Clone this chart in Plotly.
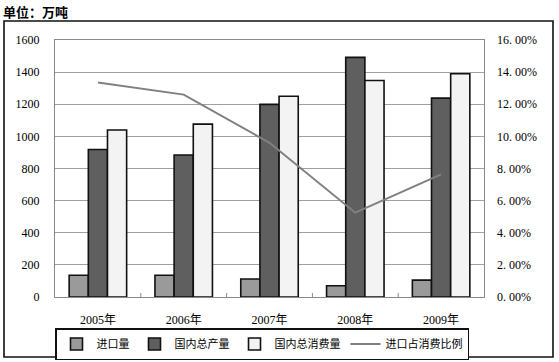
import plotly.graph_objects as go

years = ["2005年", "2006年", "2007年", "2008年", "2009年"]
imports = [135, 135, 112, 70, 105]
production = [918, 884, 1199, 1492, 1238]
consumption = [1040, 1076, 1250, 1348, 1390]
import_ratio = [0.1335, 0.126, 0.096, 0.0525, 0.0763]

left_ticks = [0, 200, 400, 600, 800, 1000, 1200, 1400, 1600]
right_tickvals = [0, 0.02, 0.04, 0.06, 0.08, 0.10, 0.12, 0.14, 0.16]
right_ticktext = ["0. 00%", "2. 00%", "4. 00%", "6. 00%", "8. 00%",
                  "10. 00%", "12. 00%", "14. 00%", "16. 00%"]

serif = "Liberation Serif, Noto Sans CJK SC, serif"
cjk = "Noto Sans CJK SC, sans-serif"

fig = go.Figure()
outline = dict(color="#111111", width=1.6)
fig.add_trace(go.Bar(name="进口量", x=years, y=imports,
                     marker=dict(color="#9a9a9a", line=outline)))
fig.add_trace(go.Bar(name="国内总产量", x=years, y=production,
                     marker=dict(color="#5f5f5f", line=outline)))
fig.add_trace(go.Bar(name="国内总消费量", x=years, y=consumption,
                     marker=dict(color="#f3f3f3", line=outline)))
fig.add_trace(go.Scatter(name="进口占消费比例", x=years, y=import_ratio,
                         yaxis="y2", mode="lines",
                         line=dict(color="#808080", width=2)))

W, H = 559, 362
L, R, T, B = 55, 484, 40, 297
pw, ph = R - L, B - T

def px(x):
    return (x - L) / pw

def py(y):
    return (B - y) / ph

fig.update_layout(
    width=W, height=H,
    margin=dict(l=L, r=W - R, t=T, b=H - B, autoexpand=False),
    paper_bgcolor="white", plot_bgcolor="white",
    barmode="group", bargap=0.33, bargroupgap=0,
    showlegend=True,
    font=dict(family=serif, size=12, color="black"),
    xaxis=dict(showgrid=False, showline=True, linecolor="#8a8a8a", linewidth=1,
               mirror=True, ticks="", tickfont=dict(family=serif, size=12),
               ticklabelstandoff=12),
    yaxis=dict(range=[0, 1600], tickvals=left_ticks, showgrid=True,
               gridcolor="#a0a0a0", gridwidth=1, showline=True,
               linecolor="#8a8a8a", linewidth=1, mirror=True, zeroline=False,
               ticks="", tickfont=dict(family=serif, size=12),
               ticklabelstandoff=12),
    yaxis2=dict(range=[0, 0.16], tickvals=right_tickvals, ticktext=right_ticktext,
                overlaying="y", side="right", showgrid=False, zeroline=False,
                showline=False, ticks="", tickfont=dict(family=serif, size=12),
                ticklabelstandoff=12),
    legend=dict(orientation="h", x=0, y=py(328), xanchor="left", yanchor="top",
                bordercolor="#111111", borderwidth=1.5, bgcolor="white",
                font=dict(family=cjk, size=11), itemwidth=30,
                tracegroupgap=0, traceorder="normal"),
)

# category boundary ticks on x axis
for k in range(1, 5):
    xb = k - 0.5
    fig.add_shape(type="line", xref="x", yref="paper", x0=xb, x1=xb,
                  y0=0, y1=py(B - 4), line=dict(color="#8a8a8a", width=1))

# outer frame
fig.add_shape(type="rect", xref="paper", yref="paper",
              x0=px(4), x1=px(553), y0=py(357), y1=py(21),
              line=dict(color="#111111", width=1.6), layer="below")

fig.add_annotation(text="<b>单位：万吨</b>", xref="paper", yref="paper",
                   x=px(1), y=py(12), xanchor="left", yanchor="middle",
                   showarrow=False, font=dict(family=cjk, size=13, color="black"))

fig.write_html("out.html", config={"displayModeBar": False},
               post_script="document.body.style.margin='0px';document.body.style.overflow='hidden';")
